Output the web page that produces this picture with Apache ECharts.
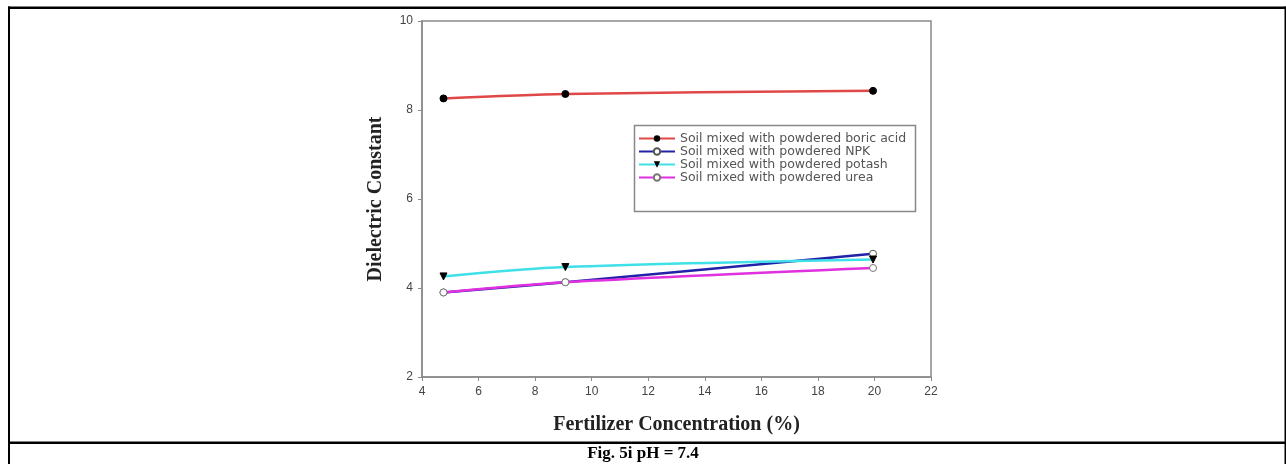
<!DOCTYPE html>
<html>
<head>
<meta charset="utf-8">
<script src="https://cdn.jsdelivr.net/npm/echarts@6/dist/echarts.min.js"></script>
<style>
html,body{margin:0;padding:0;background:#fff;}
#chart{width:1286px;height:464px;}
</style>
</head>
<body>
<div id="chart"></div>
<script>
// Data
var concentrations = [4.76, 9.07, 19.95];
var boricAcid = [8.26, 8.36, 8.43];
var npk = [3.90, 4.13, 4.77];
var potash = [4.26, 4.47, 4.64];
var urea = [3.90, 4.13, 4.45];
var seriesNames = [
  'Soil mixed with powdered boric acid',
  'Soil mixed with powdered NPK',
  'Soil mixed with powdered potash',
  'Soil mixed with powdered urea'
];
var xTicks = [4, 6, 8, 10, 12, 14, 16, 18, 20, 22];
var yTicks = [2, 4, 6, 8, 10];
var xTitle = 'Fertilizer Concentration (%)';
var yTitle = 'Dielectric Constant';
var caption = 'Fig. 5i pH = 7.4';

function pairs(ys){ return concentrations.map(function(x,i){ return [x, ys[i]]; }); }

var chart = echarts.init(document.getElementById('chart'), null, {renderer:'canvas'});

var axisGrey = '#8a8a8a';
var labelStyle = {color:'#444', fontSize:12, fontFamily:'Liberation Sans, Arial, sans-serif'};

var option = {
  backgroundColor:'#fff',
  animation:false,
  grid:{left:422, top:21, right:355, bottom:87, show:true, borderColor:axisGrey, borderWidth:1.5, containLabel:false},
  xAxis:{
    type:'value', min:xTicks[0], max:xTicks[xTicks.length-1], interval:2,
    axisLine:{show:true, onZero:false, lineStyle:{color:axisGrey, width:1.5}},
    axisTick:{show:true, inside:false, length:4, lineStyle:{color:axisGrey}},
    splitLine:{show:false},
    axisLabel:Object.assign({margin:9}, labelStyle),
    name:xTitle, nameLocation:'middle', nameGap:38,
    nameTextStyle:{fontFamily:'Liberation Serif, Times New Roman, serif', fontWeight:'bold', fontSize:20, color:'#222'}
  },
  yAxis:{
    type:'value', min:yTicks[0], max:yTicks[yTicks.length-1], interval:2,
    axisLine:{show:true, onZero:false, lineStyle:{color:axisGrey, width:1.5}},
    axisTick:{show:true, inside:false, length:4, lineStyle:{color:axisGrey}},
    splitLine:{show:false},
    axisLabel:Object.assign({margin:9}, labelStyle),
    name:yTitle, nameLocation:'middle', nameGap:36, nameRotate:90,
    nameTextStyle:{fontFamily:'Liberation Serif, Times New Roman, serif', fontWeight:'bold', fontSize:20, color:'#222'}
  },
  legend:{
    orient:'vertical', left:638, top:132, padding:0,
    itemWidth:36, itemHeight:8, itemGap:0,
    textStyle:{color:'#555', fontSize:12.5, lineHeight:12.3, fontFamily:'DejaVu Sans, Liberation Sans, sans-serif'},
    data:seriesNames
  },
  series:[
    {name:seriesNames[0], type:'line', data:pairs(boricAcid), smooth:0.3,
     lineStyle:{color:'#e04848', width:2.5}, itemStyle:{color:'#000', borderColor:'#000'},
     symbol:'circle', symbolSize:7, color:'#e04848'},
    {name:seriesNames[1], type:'line', data:pairs(npk), smooth:0.3,
     lineStyle:{color:'#2222a8', width:2.5}, itemStyle:{color:'#fff', borderColor:'#555', borderWidth:1},
     symbol:'circle', symbolSize:7, color:'#2222a8'},
    {name:seriesNames[2], type:'line', data:pairs(potash), smooth:0.3,
     lineStyle:{color:'#40e0e8', width:2.5}, itemStyle:{color:'#000', borderColor:'#000'},
     symbol:'triangle', symbolRotate:180, symbolSize:7, color:'#40e0e8'},
    {name:seriesNames[3], type:'line', data:pairs(urea), smooth:0.3,
     lineStyle:{color:'#e030e0', width:2.5}, itemStyle:{color:'#fff', borderColor:'#777', borderWidth:1},
     symbol:'circle', symbolSize:7, color:'#e030e0'}
  ],
  graphic:[
    {type:'rect', left:632, top:123, shape:{width:281, height:86}, style:{fill:'none', stroke:'#888', lineWidth:1.5}, z:5},
    // table border lines
    {type:'rect', shape:{x:8, y:6.5, width:1278, height:2.5}, style:{fill:'#000'}},
    {type:'rect', shape:{x:8, y:6.5, width:2, height:458}, style:{fill:'#000'}},
    {type:'rect', shape:{x:1284.5, y:6.5, width:1.5, height:458}, style:{fill:'#000'}},
    {type:'rect', shape:{x:8, y:441.5, width:1278, height:2.5}, style:{fill:'#000'}},
    {type:'text', left:'center', top:445, style:{text:caption, fontFamily:'Liberation Serif, Times New Roman, serif', fontWeight:'bold', fontSize:17, fill:'#000'}}
  ]
};
chart.setOption(option);
</script>
</body>
</html>
